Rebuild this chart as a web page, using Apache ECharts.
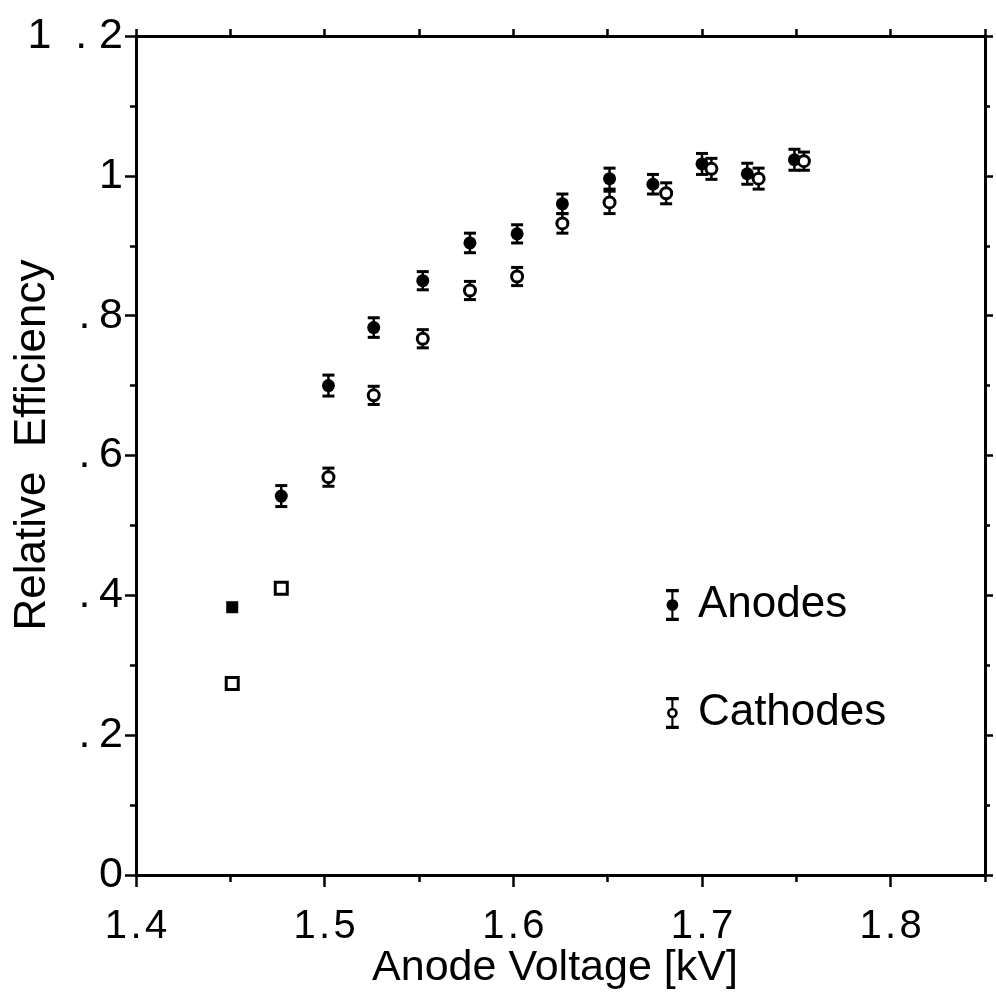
<!DOCTYPE html>
<html>
<head>
<meta charset="utf-8">
<script src="https://cdn.jsdelivr.net/npm/echarts@6/dist/echarts.min.js"></script>
<style>
html,body{margin:0;padding:0;background:#fff;}
#c{width:996px;height:1002px;}
</style>
</head>
<body>
<div id="c"></div>
<script>
// ---- data ----
const anodeX   = [1.451, 1.477, 1.502, 1.526, 1.552, 1.577, 1.602, 1.626, 1.651, 1.674, 1.700, 1.724, 1.749];
const anodeY   = [0.383, 0.542, 0.700, 0.783, 0.850, 0.904, 0.917, 0.960, 0.996, 0.988, 1.017, 1.003, 1.023];
const anodeErr = [0,     0.015, 0.015, 0.014, 0.013, 0.014, 0.013, 0.014, 0.015, 0.014, 0.015, 0.015, 0.015];

const cathodeX   = [1.451, 1.477, 1.502, 1.526, 1.552, 1.577, 1.602, 1.626, 1.651, 1.681, 1.705, 1.730, 1.754];
const cathodeY   = [0.274, 0.410, 0.569, 0.686, 0.767, 0.836, 0.856, 0.932, 0.962, 0.975, 1.010, 0.996, 1.021];
const cathodeErr = [0,     0,     0.013, 0.013, 0.013, 0.013, 0.013, 0.014, 0.016, 0.015, 0.015, 0.015, 0.013];

const xTicks = [1.4, 1.5, 1.6, 1.7, 1.8];
const yTickLabels = {"0": "0", "0.2": ".\u20092", "0.4": ".\u20094", "0.6": ".\u20096", "0.8": ".\u20098", "1": "1", "1.2": "1  . 2"};
const seriesNames = ["Anodes", "Cathodes"];
const xTitle = "Anode Voltage [kV]";
const yTitle = "Relative  Efficiency";

// ---- chart ----
const FONT = "'Liberation Sans', Arial, Helvetica, sans-serif";
const chart = echarts.init(document.getElementById('c'), null, {renderer: 'canvas'});

function pts(xs, ys, errs) {
  return xs.map((x, i) => [x, ys[i], errs[i]]);
}
const anodeData = pts(anodeX, anodeY, anodeErr);
const cathodeData = pts(cathodeX, cathodeY, cathodeErr);

function errRender(params, api) {
  const x = api.value(0), y = api.value(1), e = api.value(2);
  if (!e) return null;
  const hi = api.coord([x, y + e]);
  const lo = api.coord([x, y - e]);
  const hw = 6;
  const st = {stroke: '#000', lineWidth: 3};
  return {
    type: 'group',
    children: [
      {type: 'line', shape: {x1: hi[0], y1: hi[1], x2: lo[0], y2: lo[1]}, style: {stroke: '#000', lineWidth: 2.5}},
      {type: 'line', shape: {x1: hi[0] - hw, y1: hi[1], x2: hi[0] + hw, y2: hi[1]}, style: st},
      {type: 'line', shape: {x1: lo[0] - hw, y1: lo[1], x2: lo[0] + hw, y2: lo[1]}, style: st}
    ]
  };
}

function markerData(data) {
  return data.map(d => d[2] === 0
    ? {value: [d[0], d[1]], symbol: 'rect', symbolSize: 12}
    : {value: [d[0], d[1]]});
}

const filledIcon = 'path://M0 0H12V3H0Z M0 27H12V30H0Z M5 0H7V30H5Z M0.5 15A5.5 5.5 0 1 1 11.5 15A5.5 5.5 0 1 1 0.5 15Z';
const hollowIcon = 'path://M0 0H12V3H0Z M0 27H12V30H0Z M5 0H7V10H5Z M5 20H7V30H5Z M1 15A5 5 0 1 1 11 15A5 5 0 1 1 1 15Z M3.5 15A2.5 2.5 0 1 0 8.5 15A2.5 2.5 0 1 0 3.5 15Z';

const axisLineStyle = {color: '#000', width: 3};
const tickStyle = {color: '#000', width: 2.5};

const option = {
  animation: false,
  backgroundColor: '#fff',
  grid: {left: 136, right: 11, top: 36, bottom: 127},
  legend: {
    orient: 'vertical',
    left: 661,
    top: 578,
    itemWidth: 13,
    itemHeight: 32,
    itemGap: 64,
    selectedMode: false,
    textStyle: {fontSize: 44, lineHeight: 44, color: '#000', fontFamily: FONT, padding: [0, 0, 0, 14]},
    data: [
      {name: seriesNames[0], icon: filledIcon, itemStyle: {color: '#000', borderWidth: 0}},
      {name: seriesNames[1], icon: hollowIcon, itemStyle: {color: '#000', borderWidth: 0}}
    ]
  },
  xAxis: [
    {
      type: 'value', min: 1.4, max: 1.85, interval: 0.1, position: 'bottom',
      axisLine: {onZero: false, lineStyle: axisLineStyle},
      axisTick: {length: 12, lineStyle: tickStyle},
      splitLine: {show: false},
      axisLabel: {
        margin: 32, fontSize: 40, color: '#000', fontFamily: FONT, showMaxLabel: false,
        formatter: v => {
          const t = xTicks.find(k => Math.abs(k - v) < 1e-6);
          return t === undefined ? '' : t.toFixed(1).replace('.', '\u200A.\u200A');
        }
      }
    },
    {
      type: 'value', min: 1.4, max: 1.85, interval: 0.05, position: 'bottom',
      axisLine: {show: false, onZero: false},
      axisTick: {length: 7, lineStyle: tickStyle},
      splitLine: {show: false}, axisLabel: {show: false}
    },
    {
      type: 'value', min: 1.4, max: 1.85, interval: 0.05, position: 'top',
      axisLine: {onZero: false, lineStyle: axisLineStyle},
      axisTick: {length: 7, lineStyle: tickStyle},
      splitLine: {show: false}, axisLabel: {show: false}
    }
  ],
  yAxis: [
    {
      type: 'value', min: 0, max: 1.2, interval: 0.2, position: 'left',
      axisLine: {onZero: false, lineStyle: axisLineStyle},
      axisTick: {length: 11, lineStyle: tickStyle},
      minorTick: {show: true, splitNumber: 2, length: 6, lineStyle: tickStyle},
      splitLine: {show: false}, minorSplitLine: {show: false},
      axisLabel: {
        margin: 13, fontSize: 43, color: '#000', fontFamily: FONT,
        formatter: v => {
          const k = String(Math.round(v * 10) / 10);
          return yTickLabels[k] !== undefined ? yTickLabels[k] : '';
        }
      }
    },
    {
      type: 'value', min: 0, max: 1.2, interval: 0.2, position: 'right',
      axisLine: {onZero: false, lineStyle: axisLineStyle},
      axisTick: {length: 8, lineStyle: tickStyle},
      minorTick: {show: true, splitNumber: 2, length: 5, lineStyle: tickStyle},
      splitLine: {show: false}, minorSplitLine: {show: false},
      axisLabel: {show: false}
    }
  ],
  graphic: [
    {type: 'text', z: 100, x: 555, y: 968,
     style: {text: xTitle, font: '43px ' + FONT, fill: '#000', align: 'center', verticalAlign: 'middle'}},
    {type: 'text', z: 100, x: 33, y: 445, rotation: Math.PI / 2,
     style: {text: yTitle, font: '44px ' + FONT, fill: '#000', align: 'center', verticalAlign: 'middle'}}
  ],
  series: [
    {
      name: seriesNames[0] + ' err', type: 'custom', xAxisIndex: 0, yAxisIndex: 0,
      renderItem: errRender, data: anodeData, z: 2, silent: true,
      encode: {x: 0, y: 1}
    },
    {
      name: seriesNames[1] + ' err', type: 'custom', xAxisIndex: 0, yAxisIndex: 0,
      renderItem: errRender, data: cathodeData, z: 2, silent: true,
      encode: {x: 0, y: 1}
    },
    {
      name: seriesNames[0], type: 'scatter', xAxisIndex: 0, yAxisIndex: 0,
      data: markerData(anodeData), symbol: 'circle', symbolSize: 13, z: 3, silent: true,
      itemStyle: {color: '#000', opacity: 1}
    },
    {
      name: seriesNames[1], type: 'scatter', xAxisIndex: 0, yAxisIndex: 0,
      data: markerData(cathodeData), symbol: 'circle', symbolSize: 11, z: 4, silent: true,
      itemStyle: {color: '#fff', borderColor: '#000', borderWidth: 3, opacity: 1}
    }
  ]
};
chart.setOption(option);
</script>
</body>
</html>
